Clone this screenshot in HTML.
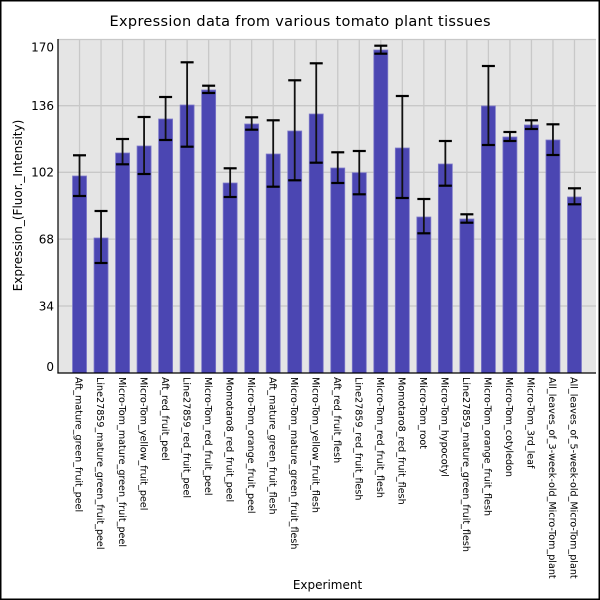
<!DOCTYPE html>
<html><head><meta charset="utf-8"><style>
html,body{margin:0;padding:0;background:#fff}
svg{display:block}
text{font-family:"DejaVu Sans","Liberation Sans",sans-serif;fill:#000}
</style></head><body>
<svg width="600" height="600" viewBox="0 0 600 600" xmlns="http://www.w3.org/2000/svg">
<rect x="0" y="0" width="600" height="600" fill="#fff"/>
<rect x="0.75" y="0.75" width="598.5" height="598.5" fill="none" stroke="#000" stroke-width="1.5"/>
<text x="300" y="26" font-size="14.5" text-anchor="middle" textLength="381" lengthAdjust="spacing">Expression data from various tomato plant tissues</text>
<rect x="58" y="39" width="538" height="334" fill="#e5e5e5"/>
<g stroke="#c8c8c8" stroke-width="1.3">
<line x1="58" y1="39.5" x2="596" y2="39.5"/>
<line x1="58" y1="105.7" x2="596" y2="105.7"/>
<line x1="58" y1="172.3" x2="596" y2="172.3"/>
<line x1="58" y1="239.1" x2="596" y2="239.1"/>
<line x1="58" y1="306" x2="596" y2="306"/>
<line x1="79.52" y1="39" x2="79.52" y2="373"/><line x1="101.04" y1="39" x2="101.04" y2="373"/><line x1="122.56" y1="39" x2="122.56" y2="373"/><line x1="144.08" y1="39" x2="144.08" y2="373"/><line x1="165.6" y1="39" x2="165.6" y2="373"/><line x1="187.12" y1="39" x2="187.12" y2="373"/><line x1="208.64" y1="39" x2="208.64" y2="373"/><line x1="230.16" y1="39" x2="230.16" y2="373"/><line x1="251.68" y1="39" x2="251.68" y2="373"/><line x1="273.2" y1="39" x2="273.2" y2="373"/><line x1="294.72" y1="39" x2="294.72" y2="373"/><line x1="316.24" y1="39" x2="316.24" y2="373"/><line x1="337.76" y1="39" x2="337.76" y2="373"/><line x1="359.28" y1="39" x2="359.28" y2="373"/><line x1="380.8" y1="39" x2="380.8" y2="373"/><line x1="402.32" y1="39" x2="402.32" y2="373"/><line x1="423.84" y1="39" x2="423.84" y2="373"/><line x1="445.36" y1="39" x2="445.36" y2="373"/><line x1="466.88" y1="39" x2="466.88" y2="373"/><line x1="488.4" y1="39" x2="488.4" y2="373"/><line x1="509.92" y1="39" x2="509.92" y2="373"/><line x1="531.44" y1="39" x2="531.44" y2="373"/><line x1="552.96" y1="39" x2="552.96" y2="373"/><line x1="574.48" y1="39" x2="574.48" y2="373"/>
</g>
<g fill="#4b46b2" stroke="#7e7ac9" stroke-width="0.8">
<rect x="72.52" y="176" width="14" height="197"/>
<rect x="94.04" y="238" width="14" height="135"/>
<rect x="115.56" y="153" width="14" height="220"/>
<rect x="137.08" y="146" width="14" height="227"/>
<rect x="158.6" y="119" width="14" height="254"/>
<rect x="180.12" y="105" width="14" height="268"/>
<rect x="201.64" y="90" width="14" height="283"/>
<rect x="223.16" y="183" width="14" height="190"/>
<rect x="244.68" y="124" width="14" height="249"/>
<rect x="266.2" y="154" width="14" height="219"/>
<rect x="287.72" y="131" width="14" height="242"/>
<rect x="309.24" y="114" width="14" height="259"/>
<rect x="330.76" y="168" width="14" height="205"/>
<rect x="352.28" y="172.7" width="14" height="200.3"/>
<rect x="373.8" y="50" width="14" height="323"/>
<rect x="395.32" y="148" width="14" height="225"/>
<rect x="416.84" y="217" width="14" height="156"/>
<rect x="438.36" y="164" width="14" height="209"/>
<rect x="459.88" y="219" width="14" height="154"/>
<rect x="481.4" y="106" width="14" height="267"/>
<rect x="502.92" y="137" width="14" height="236"/>
<rect x="524.44" y="125" width="14" height="248"/>
<rect x="545.96" y="140" width="14" height="233"/>
<rect x="567.48" y="197" width="14" height="176"/>
</g>
<g stroke="#111" stroke-width="1.8">
<line x1="79.52" y1="155.3" x2="79.52" y2="196"/>
<line x1="101.04" y1="211" x2="101.04" y2="263"/>
<line x1="122.56" y1="139" x2="122.56" y2="164.3"/>
<line x1="144.08" y1="117" x2="144.08" y2="174"/>
<line x1="165.6" y1="97" x2="165.6" y2="140"/>
<line x1="187.12" y1="62.3" x2="187.12" y2="146.7"/>
<line x1="208.64" y1="85.7" x2="208.64" y2="93"/>
<line x1="230.16" y1="168.3" x2="230.16" y2="197"/>
<line x1="251.68" y1="117.3" x2="251.68" y2="129.7"/>
<line x1="273.2" y1="120.3" x2="273.2" y2="186.7"/>
<line x1="294.72" y1="80.3" x2="294.72" y2="180.3"/>
<line x1="316.24" y1="63.3" x2="316.24" y2="162.7"/>
<line x1="337.76" y1="152.3" x2="337.76" y2="183"/>
<line x1="359.28" y1="151" x2="359.28" y2="194.3"/>
<line x1="380.8" y1="45.7" x2="380.8" y2="53.7"/>
<line x1="402.32" y1="96" x2="402.32" y2="198"/>
<line x1="423.84" y1="199" x2="423.84" y2="233.3"/>
<line x1="445.36" y1="141" x2="445.36" y2="185.7"/>
<line x1="466.88" y1="214.3" x2="466.88" y2="222.7"/>
<line x1="488.4" y1="66" x2="488.4" y2="145"/>
<line x1="509.92" y1="132" x2="509.92" y2="141"/>
<line x1="531.44" y1="120.3" x2="531.44" y2="129"/>
<line x1="552.96" y1="124.3" x2="552.96" y2="155"/>
<line x1="574.48" y1="188.3" x2="574.48" y2="204.3"/>
</g>
<g stroke="#000" stroke-width="2.2">
<line x1="73" y1="155.3" x2="86" y2="155.3"/><line x1="73" y1="196" x2="86" y2="196"/>
<line x1="94.54" y1="211" x2="107.54" y2="211"/><line x1="94.54" y1="263" x2="107.54" y2="263"/>
<line x1="116.06" y1="139" x2="129.06" y2="139"/><line x1="116.06" y1="164.3" x2="129.06" y2="164.3"/>
<line x1="137.58" y1="117" x2="150.58" y2="117"/><line x1="137.58" y1="174" x2="150.58" y2="174"/>
<line x1="159.1" y1="97" x2="172.1" y2="97"/><line x1="159.1" y1="140" x2="172.1" y2="140"/>
<line x1="180.62" y1="62.3" x2="193.62" y2="62.3"/><line x1="180.62" y1="146.7" x2="193.62" y2="146.7"/>
<line x1="202.14" y1="85.7" x2="215.14" y2="85.7"/><line x1="202.14" y1="93" x2="215.14" y2="93"/>
<line x1="223.66" y1="168.3" x2="236.66" y2="168.3"/><line x1="223.66" y1="197" x2="236.66" y2="197"/>
<line x1="245.18" y1="117.3" x2="258.18" y2="117.3"/><line x1="245.18" y1="129.7" x2="258.18" y2="129.7"/>
<line x1="266.7" y1="120.3" x2="279.7" y2="120.3"/><line x1="266.7" y1="186.7" x2="279.7" y2="186.7"/>
<line x1="288.22" y1="80.3" x2="301.22" y2="80.3"/><line x1="288.22" y1="180.3" x2="301.22" y2="180.3"/>
<line x1="309.74" y1="63.3" x2="322.74" y2="63.3"/><line x1="309.74" y1="162.7" x2="322.74" y2="162.7"/>
<line x1="331.26" y1="152.3" x2="344.26" y2="152.3"/><line x1="331.26" y1="183" x2="344.26" y2="183"/>
<line x1="352.78" y1="151" x2="365.78" y2="151"/><line x1="352.78" y1="194.3" x2="365.78" y2="194.3"/>
<line x1="374.3" y1="45.7" x2="387.3" y2="45.7"/><line x1="374.3" y1="53.7" x2="387.3" y2="53.7"/>
<line x1="395.82" y1="96" x2="408.82" y2="96"/><line x1="395.82" y1="198" x2="408.82" y2="198"/>
<line x1="417.34" y1="199" x2="430.34" y2="199"/><line x1="417.34" y1="233.3" x2="430.34" y2="233.3"/>
<line x1="438.86" y1="141" x2="451.86" y2="141"/><line x1="438.86" y1="185.7" x2="451.86" y2="185.7"/>
<line x1="460.38" y1="214.3" x2="473.38" y2="214.3"/><line x1="460.38" y1="222.7" x2="473.38" y2="222.7"/>
<line x1="481.9" y1="66" x2="494.9" y2="66"/><line x1="481.9" y1="145" x2="494.9" y2="145"/>
<line x1="503.42" y1="132" x2="516.42" y2="132"/><line x1="503.42" y1="141" x2="516.42" y2="141"/>
<line x1="524.94" y1="120.3" x2="537.94" y2="120.3"/><line x1="524.94" y1="129" x2="537.94" y2="129"/>
<line x1="546.46" y1="124.3" x2="559.46" y2="124.3"/><line x1="546.46" y1="155" x2="559.46" y2="155"/>
<line x1="567.98" y1="188.3" x2="580.98" y2="188.3"/><line x1="567.98" y1="204.3" x2="580.98" y2="204.3"/>
</g>
<line x1="58" y1="39" x2="58" y2="373.5" stroke="#000" stroke-width="1.2"/>
<line x1="57.4" y1="373" x2="596" y2="373" stroke="#000" stroke-width="1.2"/>
<g font-size="12" text-anchor="end">
<text x="54" y="51.7">170</text>
<text x="54" y="110">136</text>
<text x="54" y="176.7">102</text>
<text x="54" y="243.5">68</text>
<text x="54" y="310.3">34</text>
<text x="54" y="371">0</text>
</g>
<text transform="translate(22,205.5) rotate(-90)" font-size="12" text-anchor="middle">Expression_(Fluor._Intensity)</text>
<text x="327.5" y="589" font-size="12" text-anchor="middle">Experiment</text>
<g font-size="9.6">
<text transform="translate(75.7,377) rotate(90)">Aft_mature_green_fruit_peel</text>
<text transform="translate(97.2,377) rotate(90)">Line27859_mature_green_fruit_peel</text>
<text transform="translate(118.8,377) rotate(90)">Micro-Tom_mature_green_fruit_peel</text>
<text transform="translate(140.3,377) rotate(90)">Micro-Tom_yellow_fruit_peel</text>
<text transform="translate(161.8,377) rotate(90)">Aft_red_fruit_peel</text>
<text transform="translate(183.3,377) rotate(90)">Line27859_red_fruit_peel</text>
<text transform="translate(204.8,377) rotate(90)">Micro-Tom_red_fruit_peel</text>
<text transform="translate(226.4,377) rotate(90)">Momotaro8_red_fruit_peel</text>
<text transform="translate(247.9,377) rotate(90)">Micro-Tom_orange_fruit_peel</text>
<text transform="translate(269.4,377) rotate(90)">Aft_mature_green_fruit_flesh</text>
<text transform="translate(290.9,377) rotate(90)">Micro-Tom_mature_green_fruit_flesh</text>
<text transform="translate(312.4,377) rotate(90)">Micro-Tom_yellow_fruit_flesh</text>
<text transform="translate(334,377) rotate(90)">Aft_red_fruit_flesh</text>
<text transform="translate(355.5,377) rotate(90)">Line27859_red_fruit_flesh</text>
<text transform="translate(377,377) rotate(90)">Micro-Tom_red_fruit_flesh</text>
<text transform="translate(398.5,377) rotate(90)">Momotaro8_red_fruit_flesh</text>
<text transform="translate(420,377) rotate(90)">Micro-Tom_root</text>
<text transform="translate(441.6,377) rotate(90)">Micro-Tom_hypocotyl</text>
<text transform="translate(463.1,377) rotate(90)">Line27859_mature_green_fruit_flesh</text>
<text transform="translate(484.6,377) rotate(90)">Micro-Tom_orange_fruit_flesh</text>
<text transform="translate(506.1,377) rotate(90)">Micro-Tom_cotyledon</text>
<text transform="translate(527.6,377) rotate(90)">Micro-Tom_3rd_leaf</text>
<text transform="translate(549.2,377) rotate(90)">All_leaves_of_3-week-old_Micro-Tom_plant</text>
<text transform="translate(570.7,377) rotate(90)">All_leaves_of_5-week-old_Micro-Tom_plant</text>
</g>
</svg>
</body></html>
